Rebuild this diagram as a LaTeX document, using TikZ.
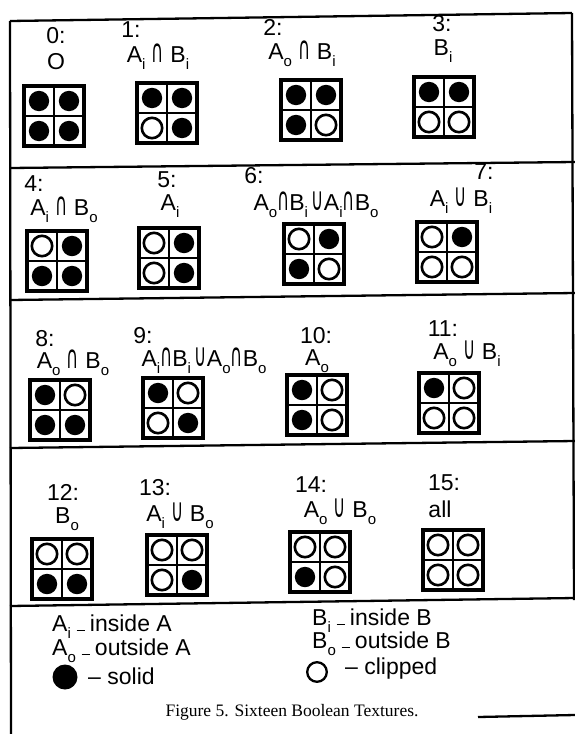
\documentclass[tikz,border=0pt]{standalone}
\usepackage{fontspec}
\setmainfont{Liberation Sans}
\newfontfamily\capfont{Liberation Serif}
\newfontfamily\symfont{DejaVu Sans}
\newcommand\Cap{{\symfont\scalebox{0.72}[1.4]{\char"2229}}}
\newcommand\Cup{{\symfont\scalebox{0.72}[1.4]{\char"222A}}}
\newcommand\sbs[1]{\raisebox{-0.3em}{\fontsize{15}{15}\selectfont #1}}
\newcommand\Ain{A\sbs{i}}
\newcommand\Aout{A\sbs{o}}
\newcommand\Bin{B\sbs{i}}
\newcommand\Bout{B\sbs{o}}
\newcommand\ldash{\hspace{0.25em}\rule[0.02em]{0.36em}{0.08em}\hspace{0.22em}}
\tikzset{
  lab/.style={inner sep=0pt, font=\fontsize{23}{26}\selectfont},
  frameline/.style={line width=2.3pt},
  gridframe/.style={line width=3.4pt},
  cellline/.style={line width=2.2pt},
  ful/.style={fill=black},
  emp/.style={draw=black, line width=2.6pt},
}
\newcommand\tgrid[6]{%
  \begin{scope}[shift={(#1,#2)}]
    \draw[cellline] (30,0) -- (30,60) (0,30) -- (60,30);
    \draw[gridframe] (0,0) rectangle (60,60);
    \path[#3] (15,15) circle[radius=\ifx#3ful 12.3pt\else 10.2pt\fi];
    \path[#4] (45,15) circle[radius=\ifx#4ful 12.3pt\else 10.2pt\fi];
    \path[#5] (15,45) circle[radius=\ifx#5ful 12.3pt\else 10.2pt\fi];
    \path[#6] (45,45) circle[radius=\ifx#6ful 12.3pt\else 10.2pt\fi];
  \end{scope}}
\begin{document}
\begin{tikzpicture}[x=1pt,y=-1pt]
\useasboundingbox (0,0) rectangle (575,734);
% frame
\draw[frameline] (10,21) -- (572,13);
\draw[frameline] (10,21) -- (11,734);
\draw[frameline] (572,13) -- (574,600);
\draw[frameline] (10,168) -- (575,162);
\draw[frameline] (10,300) -- (575,293);
\draw[frameline] (10,448) -- (575,441);
\draw[frameline] (10,606) -- (575,598);
\draw[frameline] (478,717) -- (575,715);
% row 1
\node[lab] (n0) at (56,36) {0:};
\node[lab] (f0) at (56,62) {O};
\tgrid{24}{86}{ful}{ful}{ful}{ful}
\node[lab] (n1) at (131,30) {1:};
\node[lab] (f1) at (158,57) {\Ain\ \Cap\ \Bin};
\tgrid{137}{83}{ful}{ful}{emp}{ful}
\node[lab] (n2) at (273,27) {2:};
\node[lab] (f2) at (302,54) {\Aout\ \Cap\ \Bin};
\tgrid{281}{80}{ful}{ful}{ful}{emp}
\node[lab] (n3) at (442,24) {3:};
\node[lab] (f3) at (443,51) {\Bin};
\tgrid{414}{77}{ful}{ful}{emp}{emp}
% row 2
\node[lab] (n4) at (34,184) {4:};
\node[lab] (f4) at (64,210) {\Ain\ \Cap\ \Bout};
\tgrid{27}{231}{emp}{ful}{ful}{ful}
\node[lab] (n5) at (167,180) {5:};
\node[lab] (f5) at (170,206) {\Ain};
\tgrid{139}{228}{emp}{ful}{emp}{ful}
\node[lab] (n6) at (254,176) {6:};
\node[lab] (f6) at (316,205) {\Aout\Cap\Bin\,\Cup\Ain\Cap\Bout};
\tgrid{284}{224}{emp}{ful}{ful}{emp}
\node[lab] (n7) at (484,172) {7:};
\node[lab] (f7) at (461,201) {\Ain\ \Cup\ \Bin};
\tgrid{417}{222}{emp}{ful}{emp}{emp}
% row 3
\node[lab] (n8) at (45,339) {8:};
\node[lab] (f8) at (73,363) {\Aout\ \Cap\ \Bout};
\tgrid{30}{380}{ful}{emp}{ful}{ful}
\node[lab] (n9) at (143,336) {9:};
\node[lab] (f9) at (204,361) {\Ain\Cap\Bin\,\Cup\Aout\Cap\Bout};
\tgrid{143}{378}{ful}{emp}{emp}{ful}
\node[lab] (n10) at (316,336) {10:};
\node[lab] (f10) at (317,361) {\Aout};
\tgrid{287}{375}{ful}{emp}{ful}{emp}
\node[lab] (n11) at (443,329) {11:};
\node[lab] (f11) at (467,354) {\Aout\ \Cup\ \Bin};
\tgrid{419}{373}{ful}{emp}{emp}{emp}
% row 4
\node[lab] (n12) at (63,492) {12:};
\node[lab] (f12) at (67,519) {\Bout};
\tgrid{32}{539}{emp}{emp}{ful}{ful}
\node[lab] (n13) at (155,488) {13:};
\node[lab] (f13) at (180,516) {\Ain\ \Cup\ \Bout};
\tgrid{147}{535}{emp}{emp}{emp}{ful}
\node[lab] (n14) at (311,485) {14:};
\node[lab] (f14) at (340,512) {\Aout\ \Cup\ \Bout};
\tgrid{290}{532}{emp}{emp}{ful}{emp}
\node[lab] (n15) at (444,483) {15:};
\node[lab] (f15) at (440,509) {all};
\tgrid{423}{530}{emp}{emp}{emp}{emp}
% legend
\node[lab,anchor=west] (l1) at (52,627) {\Ain\ldash inside A};
\node[lab,anchor=west] (l2) at (52,651) {\Aout\ldash outside A};
\fill (65,677) circle[radius=12.5pt];
\node[lab,anchor=west] (l3) at (88,676) {– solid};
\node[lab,anchor=west] (l4) at (312,621) {\Bin\ldash inside B};
\node[lab,anchor=west] (l5) at (312,644) {\Bout\ldash outside B};
\draw[line width=2.3pt] (317,672) circle[radius=9.8pt];
\node[lab,anchor=west] (l6) at (345,669) {– clipped};
\node[inner sep=0pt, font=\capfont\fontsize{17.5}{20}\selectfont] (cap) at (292,712) {Figure 5. Sixteen Boolean Textures.};
\end{tikzpicture}
\end{document}
